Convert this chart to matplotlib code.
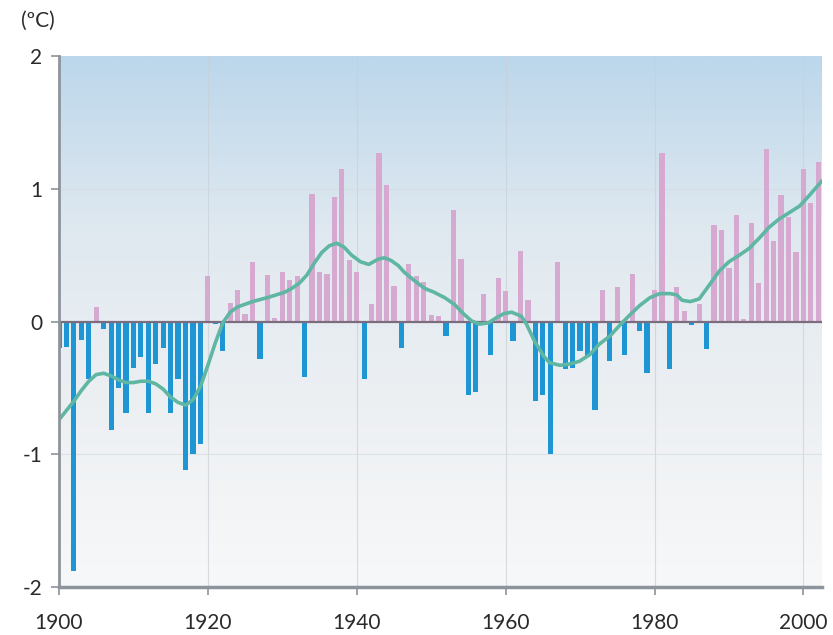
import numpy as np
import matplotlib.pyplot as plt
from matplotlib.colors import LinearSegmentedColormap

# Годы и отклонения температуры (°C)
years = list(range(1900, 2003))
anomalies = [
    -0.20, -0.19, -1.88, -0.14, -0.43, 0.11, -0.06, -0.82, -0.50, -0.69,   # 1900-1909
    -0.35, -0.27, -0.69, -0.32, -0.20, -0.69, -0.43, -1.12, -1.00, -0.92,  # 1910-1919
    0.34, -0.02, -0.22, 0.14, 0.24, 0.06, 0.45, -0.28, 0.35, 0.03,         # 1920-1929
    0.37, 0.31, 0.34, -0.42, 0.96, 0.37, 0.36, 0.94, 1.15, 0.46,           # 1930-1939
    0.37, -0.43, 0.13, 1.27, 1.03, 0.27, -0.20, 0.43, 0.34, 0.30,          # 1940-1949
    0.05, 0.04, -0.11, 0.84, 0.47, -0.55, -0.53, 0.21, -0.25, 0.33,        # 1950-1959
    0.23, -0.15, 0.53, 0.16, -0.60, -0.55, -1.00, 0.45, -0.36, -0.35,      # 1960-1969
    -0.22, -0.26, -0.67, 0.24, -0.30, 0.26, -0.25, 0.36, -0.07, -0.39,     # 1970-1979
    0.24, 1.27, -0.36, 0.26, 0.08, -0.03, 0.13, -0.21, 0.73, 0.69,         # 1980-1989
    0.40, 0.80, 0.02, 0.74, 0.29, 1.30, 0.61, 0.95, 0.79, 0.52,            # 1990-1999
    1.15, 0.89, 1.20,                                                      # 2000-2002
]

# Сглаженная кривая (точки)
smooth_years = [
    1900, 1901, 1902, 1903, 1904, 1905, 1906, 1907, 1908, 1909, 1910, 1911,
    1912, 1913, 1914, 1915, 1916, 1917, 1918, 1919, 1920, 1921, 1922, 1923,
    1924, 1926, 1928, 1930.3, 1931.3, 1932.3, 1933.3, 1934.3, 1935.3, 1936.3,
    1937.3, 1938.3, 1939.3, 1940.5, 1941.6, 1942.9, 1943.7, 1944.6, 1945.6,
    1946.4, 1947.7, 1949.1, 1950.4, 1951.8, 1953.1, 1954.3, 1955.4, 1956.5,
    1957.7, 1958.8, 1959.8, 1960.8, 1962.1, 1962.8, 1963.9, 1965.1, 1965.9,
    1967.3, 1968.6, 1969.9, 1971.3, 1972.6, 1974.0, 1975.3, 1976.7, 1978.0,
    1979.4, 1980.7, 1982.1, 1983.0, 1983.7, 1984.8, 1986.0, 1987.3, 1988.7,
    1990.0, 1991.4, 1992.7, 1994.1, 1995.4, 1996.7, 1998.1, 1999.5, 2000.8,
    2002.5,
]
smooth_values = [
    -0.74, -0.67, -0.60, -0.52, -0.45, -0.40, -0.39, -0.41, -0.44, -0.46, -0.46, -0.45,
    -0.45, -0.47, -0.51, -0.57, -0.61, -0.63, -0.59, -0.49, -0.33, -0.16, -0.01, 0.07,
    0.11, 0.15, 0.18, 0.22, 0.25, 0.29, 0.35, 0.44, 0.52, 0.57,
    0.59, 0.56, 0.50, 0.45, 0.43, 0.47, 0.48, 0.46, 0.42,
    0.37, 0.31, 0.25, 0.22, 0.18, 0.13, 0.06, 0.005, -0.02,
    -0.01, 0.03, 0.06, 0.07, 0.04, -0.02, -0.15, -0.26, -0.31,
    -0.33, -0.32, -0.30, -0.25, -0.17, -0.11, -0.03, 0.05, 0.12,
    0.18, 0.21, 0.21, 0.20, 0.16, 0.15, 0.17, 0.27, 0.38,
    0.45, 0.50, 0.55, 0.63, 0.71, 0.77, 0.82, 0.87, 0.95,
    1.06,
]

x_ticks = [1900, 1920, 1940, 1960, 1980, 2000]
y_ticks = [-2, -1, 0, 1, 2]

plt.rcParams['font.family'] = ['Lato', 'DejaVu Sans']

fig = plt.figure(figsize=(8.33, 6.35), dpi=100)
ax = fig.add_axes([59 / 833, 1 - 587 / 635, 763 / 833, 531 / 635])

x0, x1 = 1900, 2002.5
ax.set_xlim(x0, x1)
ax.set_ylim(-2, 2)

# Фон с вертикальным градиентом
bg = LinearSegmentedColormap.from_list('bg', ['#f7f8f9', '#edf0f3', '#e0e9f0', '#bcd7eb'])
grad = np.linspace(0, 1, 256).reshape(-1, 1)
ax.imshow(grad, cmap=bg, aspect='auto', origin='lower',
          extent=[x0, x1, -2, 2], zorder=0)

# Сетка
for xt in x_ticks[1:]:
    ax.axvline(xt, color='#c9d0d7', lw=0.8, alpha=0.7, zorder=1)
for yt in [-1, 1]:
    ax.axhline(yt, color='#d5dce3', lw=0.8, alpha=0.7, zorder=1)

# Столбцы
vals = np.array(anomalies)
colors = np.where(vals >= 0, '#d6a9d1', '#1d96d3')
ax.bar(years, vals, width=0.7, color=colors, zorder=2)

ax.axhline(0, color='#7b6c7e', lw=1.6, zorder=3)

# Сглаженная линия
ax.plot(smooth_years, smooth_values, color='#5fb6a3', lw=2.6, zorder=4,
        solid_capstyle='round')

# Оси
for side in ['top', 'right']:
    ax.spines[side].set_visible(False)
ax.spines['left'].set_color('#8d949b')
ax.spines['left'].set_linewidth(2)
ax.spines['bottom'].set_color('#8d949b')
ax.spines['bottom'].set_linewidth(2.5)
ax.spines['left'].set_zorder(5)
ax.spines['bottom'].set_zorder(5)

ax.set_xticks(x_ticks)
ax.set_xticklabels([str(t) for t in x_ticks])
ax.set_yticks(y_ticks)
ax.set_yticklabels([str(t) for t in y_ticks])
ax.tick_params(axis='x', direction='out', length=6, width=1.2, color='#8d949b',
               pad=13, labelsize=15, labelcolor='#2a2a2a')
ax.tick_params(axis='y', direction='out', length=6, width=1.2, color='#8d949b',
               pad=6, labelsize=15, labelcolor='#2a2a2a')

fig.text(21 / 833, 1 - 21 / 635, '(ºC)', fontsize=15, color='#2a2a2a',
         ha='left', va='center')

fig.savefig('out.png', dpi=100)
